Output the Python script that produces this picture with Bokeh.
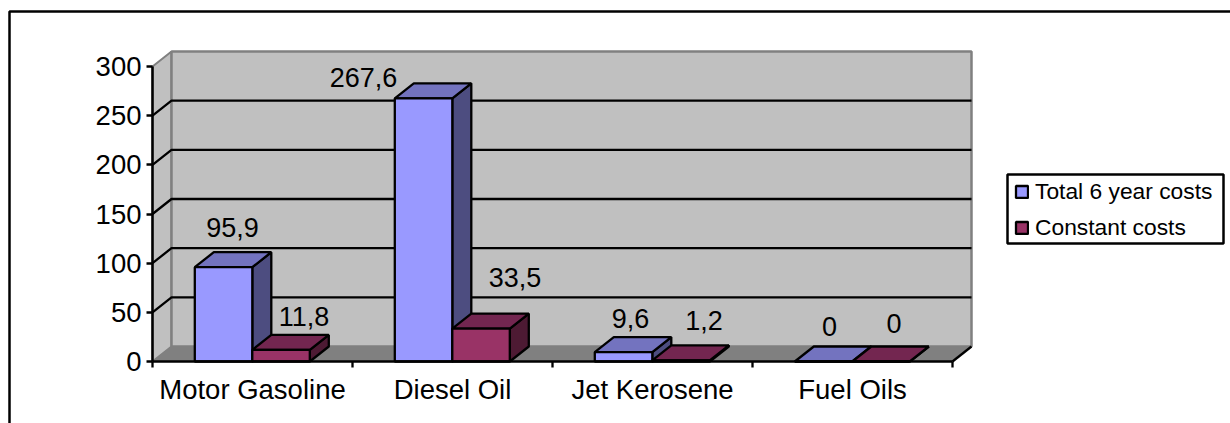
from bokeh.plotting import figure
from bokeh.models import (ColumnDataSource, FixedTicker, Legend, LegendItem, Range1d)
from bokeh.core.properties import value
from bokeh.embed import file_html
from bokeh.resources import INLINE

categories = ["Motor Gasoline", "Diesel Oil", "Jet Kerosene", "Fuel Oils"]
total_costs = [95.9, 267.6, 9.6, 0]
constant_costs = [11.8, 33.5, 1.2, 0]
total_labels = ["95,9", "267,6", "9,6", "0"]
constant_labels = ["11,8", "33,5", "1,2", "0"]
y_ticks = [0, 50, 100, 150, 200, 250, 300]

# layout (screen geometry of the 3D projection)
W, H = 1230, 423
X0, Y0 = 152, 361          # page pixel of category 0 / value 0
PX_X, PX_Y = 200.0, 295 / 300
to_x = lambda px: (px - X0) / PX_X
to_y = lambda py: (Y0 - py) / PX_Y
DX, DY = 19 / PX_X, 15 / PX_Y   # depth of the 3D box in data units
BAR_W, GAP = 57.5 / PX_X, 42.3 / PX_X
FONT = "Liberation Sans"
LBL = "27px"
AXL = "27.5px"
LW = 2.3

p = figure(width=W, height=H, output_backend="svg", toolbar_location=None,
           x_range=Range1d(to_x(0), to_x(W)), y_range=Range1d(to_y(H), to_y(0)),
           min_border=0, min_border_left=0, min_border_right=0, min_border_top=0,
           min_border_bottom=0, outline_line_color=None, background_fill_color="white",
           border_fill_color="white")
p.xgrid.visible = False
p.ygrid.visible = False

n = len(categories)
ymax = y_ticks[-1]
# chart frame (continues past the window on the right and bottom)
p.quad(left=[to_x(9)], right=[to_x(1300)], top=[to_y(11)], bottom=[to_y(500)],
       fill_color=None, line_color="black", line_width=2.5)

# walls and floor
p.patch([0, DX, DX, 0], [0, DY, ymax + DY, ymax], fill_color="#C0C0C0", line_color="#808080", line_width=2)
p.patch([DX, n + DX, n + DX, DX], [DY, DY, ymax + DY, ymax + DY], fill_color="#C0C0C0", line_color="#808080", line_width=2.5)
p.patch([0, DX, n + DX, n], [0, DY, DY, 0], fill_color="#808080", line_color="#808080", line_width=1)
p.line([n, n + DX], [0, DY], line_color="black", line_width=LW)

# gridlines
grid = y_ticks[1:-1]
p.multi_line([[0, DX, n + DX] for _ in grid], [[v, v + DY, v + DY] for v in grid],
             line_color="black", line_width=LW)


def bars(vals, offset, front, top, side):
    l = [i + GAP + offset for i in range(n)]
    r = [a + BAR_W for a in l]
    p.patches([[b, b + DX, b + DX, b] for b in r],
              [[0, DY, v + DY, v] for v in vals],
              fill_color=side, line_color="black", line_width=LW)
    p.patches([[a, b, b + DX, a + DX] for a, b in zip(l, r)],
              [[v, v, v + DY, v + DY] for v in vals],
              fill_color=top, line_color="black", line_width=LW)
    return p.quad(left=l, right=r, bottom=[0] * n, top=vals,
                  fill_color=front, line_color="black", line_width=LW)


r1 = bars(total_costs, 0, "#9999FF", "#7373BF", "#4D4D80")
r2 = bars(constant_costs, BAR_W, "#993366", "#732650", "#4D1A33")

# data labels
lab_x = [i + GAP + BAR_W / 2 for i in range(n)] + [i + GAP + 1.5 * BAR_W for i in range(n)]
lab_src = ColumnDataSource(dict(
    x=lab_x,
    y=total_costs + constant_costs,
    t=total_labels + constant_labels,
    xo=[9, -60, 7, 6, 23, 34, 23, 13],
    yo=[-40, -21, -34, -35, -33, -51, -40, -38],
))
p.text("x", "y", text="t", x_offset="xo", y_offset="yo", source=lab_src,
       text_font=value(FONT), text_font_size=value(LBL), text_color="black",
       text_align="center", text_baseline="middle")

# axes
ya = p.yaxis[0]
ya.fixed_location = 0
ya.bounds = (0, ymax)
ya.ticker = FixedTicker(ticks=y_ticks)
ya.major_tick_in = 0
ya.major_tick_out = 6
ya.minor_tick_line_color = None
ya.major_tick_line_width = LW
ya.axis_line_width = 2.5
ya.major_label_text_font = FONT
ya.major_label_text_font_size = AXL
ya.major_label_text_color = "black"
ya.major_label_standoff = 5

xa = p.xaxis[0]
xa.fixed_location = 0
xa.bounds = (0, n)
xa.ticker = FixedTicker(ticks=[i + 0.5 for i in range(n)], minor_ticks=list(range(n + 1)))
xa.major_label_overrides = {i + 0.5: c for i, c in enumerate(categories)}
xa.major_tick_line_color = None
xa.major_tick_in = 0
xa.major_tick_out = 0
xa.minor_tick_in = 0
xa.minor_tick_out = 6
xa.minor_tick_line_color = "black"
xa.minor_tick_line_width = LW
xa.axis_line_width = 2.5
xa.major_label_text_font = FONT
xa.major_label_text_font_size = AXL
xa.major_label_text_color = "black"
xa.major_label_standoff = 6

# legend box, then the legend rows
p.quad(left=[to_x(1007)], right=[to_x(1223)], top=[to_y(174)], bottom=[to_y(243)],
       fill_color="white", line_color="black", line_width=2.5)
legend = Legend(items=[LegendItem(label="Total 6 year costs", renderers=[r1]),
                       LegendItem(label="Constant costs", renderers=[r2])],
                location=(1014, 182), margin=0, padding=0, spacing=9,
                glyph_width=15, glyph_height=15, label_standoff=6,
                label_text_font=FONT, label_text_font_size="22.8px", label_text_color="black",
                label_height=20, label_width=170,
                border_line_color=None, background_fill_alpha=0)
p.add_layout(legend)

open("out.html", "w").write(file_html(p, INLINE))
